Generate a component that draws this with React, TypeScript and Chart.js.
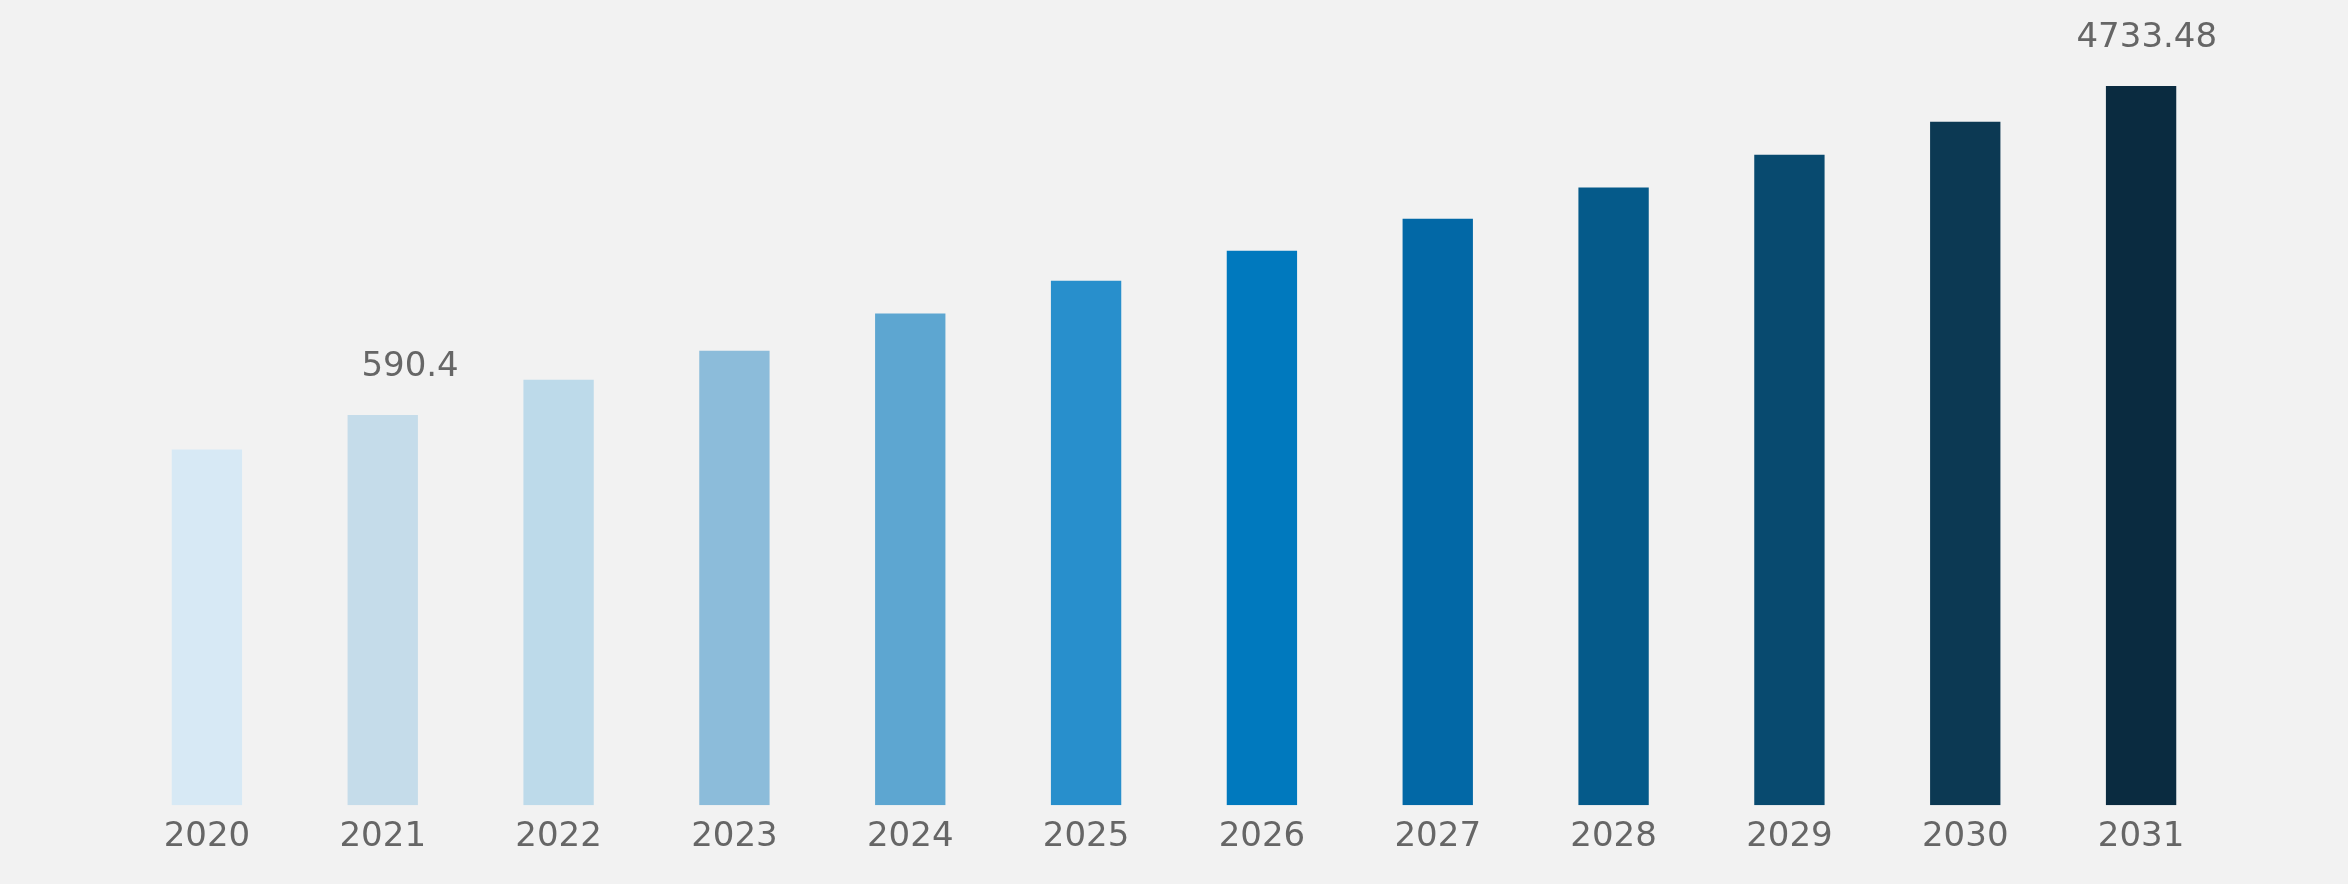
import React, { useEffect, useRef } from "react";
import { Chart, registerables } from "chart.js";

Chart.register(...registerables);

const years = ["2020", "2021", "2022", "2023", "2024", "2025", "2026", "2027", "2028", "2029", "2030", "2031"];
const marketValues = [474.3, 590.4, 737.6, 887.0, 1122.0, 1380.0, 1669.0, 2045.0, 2490.0, 3062.0, 3777.0, 4733.48];
const barColors = [
  "#d7e9f5", "#c5dcea", "#bddaea", "#8cbcda", "#5da6d1", "#288fcc",
  "#0079be", "#0268a6", "#055a8a", "#084a6f", "#0c3953", "#0a2b40",
];
const labelledIndexes = [1, 11];
const axisMin = 50;
const axisMax = 4733.48;

const FONT = "'DejaVu Sans', sans-serif";
const TEXT_COLOR = "#666666";

const valueLabelPlugin = {
  id: "valueLabels",
  afterDatasetsDraw(chart: any) {
    const ctx = chart.ctx;
    const meta = chart.getDatasetMeta(0);
    ctx.save();
    ctx.font = `34px ${FONT}`;
    ctx.fillStyle = TEXT_COLOR;
    ctx.textAlign = "right";
    ctx.textBaseline = "middle";
    labelledIndexes.forEach((i) => {
      const el = meta.data[i];
      if (!el) return;
      ctx.fillText(String(marketValues[i]), el.x + 76, el.y - 48);
    });
    ctx.restore();
  },
};

export default function App() {
  const canvasRef = useRef<HTMLCanvasElement | null>(null);

  useEffect(() => {
    document.body.style.backgroundColor = "#f2f2f2";
    const canvas = canvasRef.current;
    if (!canvas) return;
    const chart = new Chart(canvas, {
      type: "bar",
      data: {
        labels: years,
        datasets: [
          {
            data: marketValues,
            backgroundColor: barColors,
            borderWidth: 0,
            categoryPercentage: 0.8,
            barPercentage: 0.5,
          },
        ],
      },
      options: {
        responsive: false,
        animation: false,
        devicePixelRatio: 1,
        layout: { padding: { top: 78, left: 111, right: 111, bottom: 6 } },
        plugins: {
          legend: { display: false },
          tooltip: { enabled: false },
          title: { display: false },
        },
        scales: {
          x: {
            grid: { display: false, drawTicks: false },
            border: { display: false },
            ticks: {
              color: TEXT_COLOR,
              font: { family: FONT, size: 34 },
              padding: 12,
              maxRotation: 0,
              autoSkip: false,
            },
          },
          y: {
            type: "logarithmic",
            display: false,
            min: axisMin,
            max: axisMax,
          },
        },
      },
      plugins: [valueLabelPlugin],
    });
    return () => chart.destroy();
  }, []);

  return (
    <div style={{ width: 2332, height: 868 }}>
      <canvas ref={canvasRef} width={2332} height={868} style={{ display: "block", width: 2332, height: 868 }} />
    </div>
  );
}
